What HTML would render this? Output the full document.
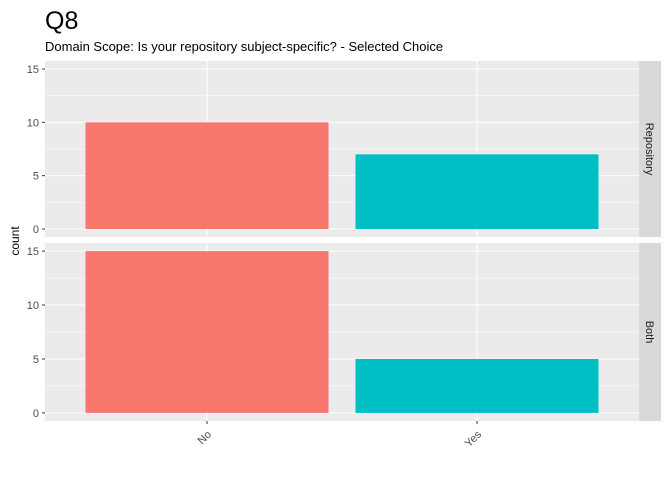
<!DOCTYPE html>
<html><head><meta charset="utf-8"><style>
body{margin:0;background:#fff;font-family:"Liberation Sans",Arial,sans-serif}
</style></head><body>
<svg id="chart" width="672" height="480" xmlns="http://www.w3.org/2000/svg">
<text x="45" y="29" font-size="25" fill="#000">Q8</text>
<text x="45" y="51" font-size="13" fill="#000">Domain Scope: Is your repository subject-specific? - Selected Choice</text>
<text transform="translate(19,241) rotate(-90)" text-anchor="middle" font-size="12" fill="#000">count</text>
<g id="plot"></g>
</svg>
<script>
const categories = ["No","Yes"];
const facets = ["Repository","Both"];
const repositoryValues = [10,7];
const bothValues = [15,5];
const yTicks = [0,5,10,15];
const colors = ["#F8766D","#00BFC4"];
const seriesByFacet = [repositoryValues, bothValues];

const NS="http://www.w3.org/2000/svg";
const g=document.getElementById('plot');
const px0=45, px1=639;
const panels=[{top:61,bottom:237},{top:243,bottom:421}];
function mk(t,a,p){const e=document.createElementNS(NS,t);for(const k in a)e.setAttribute(k,a[k]);(p||g).appendChild(e);return e;}
function xScale(i){return px0+(i+1-0.4)/2.2*(px1-px0);}
const bw=0.9/2.2*(px1-px0);
panels.forEach((p,pi)=>{
  const yS=v=>p.bottom-(v+0.75)/16.5*(p.bottom-p.top);
  const bg=mk('rect',{x:px0,y:p.top,width:px1-px0,height:p.bottom-p.top,fill:'#EBEBEB'});
  
  
  for(let k=0;k<yTicks.length;k++){
    const v=yTicks[k];
    if(k<yTicks.length-1){mk('line',{x1:px0,x2:px1,y1:yS(v+2.5),y2:yS(v+2.5),stroke:'#fff','stroke-width':0.5});}
    mk('line',{x1:px0,x2:px1,y1:yS(v),y2:yS(v),stroke:'#fff','stroke-width':1});
    mk('line',{x1:px0-3,x2:px0,y1:yS(v),y2:yS(v),stroke:'#333','stroke-width':1});
    const t=mk('text',{x:px0-6,y:yS(v)+4,'text-anchor':'end','font-size':11,fill:'#4D4D4D'});
    t.textContent=v;
    
    
  }
  categories.forEach((c,i)=>mk('line',{x1:xScale(i),x2:xScale(i),y1:p.top,y2:p.bottom,stroke:'#fff','stroke-width':1}));
  seriesByFacet[pi].forEach((v,i)=>{
    const r=mk('rect',{x:xScale(i)-bw/2,y:yS(v),width:bw,height:yS(0)-yS(v),fill:colors[i]});
    
    
  });
  const s=mk('rect',{x:px1,y:p.top,width:22,height:p.bottom-p.top,fill:'#D9D9D9'});
  
  
  const st=mk('text',{transform:`translate(${px1+7},${(p.top+p.bottom)/2}) rotate(90)`,'text-anchor':'middle','font-size':11,fill:'#1A1A1A'});
  st.textContent=facets[pi];
  
  
});
categories.forEach((c,i)=>{
  const x=xScale(i);
  mk('line',{x1:x,x2:x,y1:421,y2:424,stroke:'#333','stroke-width':1});
  const t=mk('text',{transform:`translate(${x+5},${435}) rotate(-45)`,'text-anchor':'end','font-size':11,fill:'#4D4D4D'});
  t.textContent=c;
  
  
});
</script>
</body></html>
